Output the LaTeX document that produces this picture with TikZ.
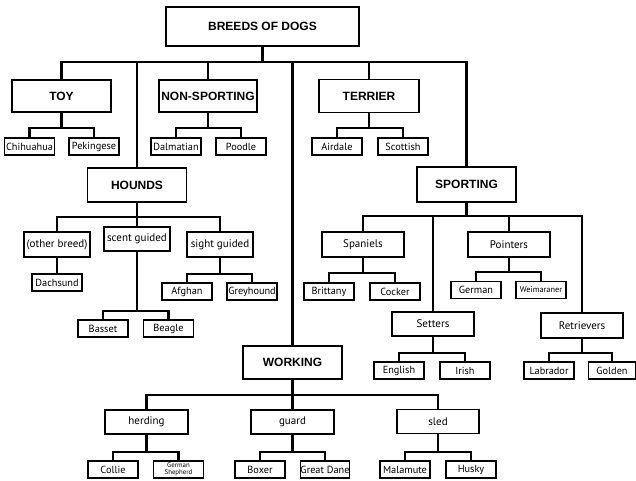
\documentclass[tikz,border=0pt]{standalone}
\usepackage{fontspec}
\setmainfont{PT Sans}
\newfontfamily\hfont{Liberation Sans}
\newcommand\famtwo[4]{%
  \draw[conn] (#1.south) -- (#1.south |- 0,#4);
  \draw[conn] (#2.north) |- (#3.north |- 0,#4) -- (#3.north);}
\begin{document}
\begin{tikzpicture}[x=1pt,y=-1pt,
  big/.style={draw, line width=1.3pt, fill=white, font=\hfont\bfseries\fontsize{12}{14}\selectfont, minimum width=99pt, minimum height=33pt, inner sep=0pt},
  mid/.style={draw, line width=1.1pt, fill=white, font=\fontsize{11}{13}\selectfont, minimum width=82pt, minimum height=24pt, inner sep=0pt},
  leaf/.style={draw, line width=1.1pt, fill=white, font=\fontsize{10.3}{12}\selectfont, minimum width=50pt, minimum height=17pt, inner sep=0pt},
  conn/.style={line width=2.2pt}]
\useasboundingbox (0,0) rectangle (636,481);
\fill[white] (0,0) rectangle (636,481);

% main categories
\node[big, minimum width=193pt, minimum height=39pt] (root) at (262.5,26.5) {BREEDS OF DOGS};
\node[big, minimum height=32pt] (toy) at (61.5,96) {TOY};
\node[big, minimum width=98pt, minimum height=32pt] (nonsp) at (208,96) {NON-SPORTING};
\node[big, minimum width=100pt] (terrier) at (369,96) {TERRIER};
\node[big, minimum height=34pt] (hounds) at (137,185) {HOUNDS};
\node[big, minimum height=35pt] (sporting) at (466.5,184.5) {SPORTING};
\node[big] (working) at (292.5,362.5) {WORKING};

% sub groups
\node[mid, minimum width=66pt, minimum height=25pt] (other) at (57,244.5) {(other breed)};
\node[mid, minimum width=66pt] (scent) at (137,239) {scent guided};
\node[mid, minimum width=66pt, minimum height=25pt] (sight) at (220,244.5) {sight guided};
\node[mid, minimum height=25pt] (spaniels) at (363,244.5) {Spaniels};
\node[mid, minimum height=25pt] (pointers) at (509,244.5) {Pointers};
\node[mid] (setters) at (433,324) {Setters};
\node[mid, minimum height=25pt] (retrievers) at (582,325.5) {Retrievers};
\node[mid, minimum width=83pt] (herding) at (146.5,422) {herding};
\node[mid, minimum width=83pt] (guard) at (292.5,422) {guard};
\node[mid] (sled) at (438,421.5) {sled};

% breeds
\node[leaf] (chihuahua) at (29.5,146.5) {Chihuahua};
\node[leaf] (pekingese) at (94,146.5) {Pekingese};
\node[leaf] (dalmatian) at (176,146.5) {Dalmatian};
\node[leaf] (poodle) at (241,146.5) {Poodle};
\node[leaf] (airdale) at (337,146.5) {Airdale};
\node[leaf] (scottish) at (403,146.5) {Scottish};
\node[leaf] (dachsund) at (57,282.5) {Dachsund};
\node[leaf] (afghan) at (187,291.5) {Afghan};
\node[leaf] (greyhound) at (252,291.5) {Greyhound};
\node[leaf] (basset) at (103,328.5) {Basset};
\node[leaf] (beagle) at (168.5,328.5) {Beagle};
\node[leaf] (brittany) at (329,291.5) {Brittany};
\node[leaf] (cocker) at (395,291.5) {Cocker};
\node[leaf] (german) at (476,290) {German};
\node[leaf, font=\fontsize{8.3}{9}\selectfont] (weimaraner) at (541,290) {Weimaraner};
\node[leaf] (english) at (399,370.5) {English};
\node[leaf] (irish) at (465,370.5) {Irish};
\node[leaf] (labrador) at (549,370.5) {Labrador};
\node[leaf, minimum width=47pt] (golden) at (612,370.5) {Golden};
\node[leaf] (collie) at (113,469.5) {Collie};
\node[leaf, font=\fontsize{6.8}{7.5}\selectfont, align=center] (gshep) at (178.5,469.5) {German\\Shepherd};
\node[leaf] (boxer) at (260,469.5) {Boxer};
\node[leaf, minimum width=48pt] (greatdane) at (325,469.5) {Great Dane};
\node[leaf] (malamute) at (405,469.5) {Malamute};
\node[leaf] (husky) at (471,469.5) {Husky};

% top level connectors
\draw[conn] (root.south) -- (root.south |- 0,62);
\draw[conn] (toy.north) |- (sporting.north |- 0,62) -- (sporting.north);
\foreach \n in {hounds,nonsp,terrier,working}
  \draw[conn] (\n.north) -- (\n.north |- 0,62);

% hounds
\draw[conn] (hounds.south) -- (scent.north);
\draw[conn] (other.north) |- (sight.north |- 0,217) -- (sight.north);
\draw[conn] (other.south) -- (dachsund.north);
\famtwo{scent}{basset}{beagle}{311}
\famtwo{sight}{afghan}{greyhound}{274}

% sporting
\draw[conn] (sporting.south) -- (sporting.south |- 0,216);
\draw[conn] (spaniels.north) |- (retrievers.north |- 0,216) -- (retrievers.north);
\draw[conn] (setters.north) -- (setters.north |- 0,216);
\draw[conn] (pointers.north) -- (pointers.north |- 0,216);
\famtwo{spaniels}{brittany}{cocker}{273}
\famtwo{pointers}{german}{weimaraner}{272}
\famtwo{setters}{english}{irish}{353}
\famtwo{retrievers}{labrador}{golden}{353}

% working
\draw[conn] (working.south) -- (working.south |- 0,395);
\draw[conn] (herding.north) |- (sled.north |- 0,395) -- (sled.north);
\draw[conn] (guard.north) -- (guard.north |- 0,395);
\famtwo{herding}{collie}{gshep}{452}
\famtwo{guard}{boxer}{greatdane}{452}
\famtwo{sled}{malamute}{husky}{452}

% first row families
\famtwo{toy}{chihuahua}{pekingese}{128}
\famtwo{nonsp}{dalmatian}{poodle}{128}
\famtwo{terrier}{airdale}{scottish}{128}
\end{tikzpicture}
\end{document}
